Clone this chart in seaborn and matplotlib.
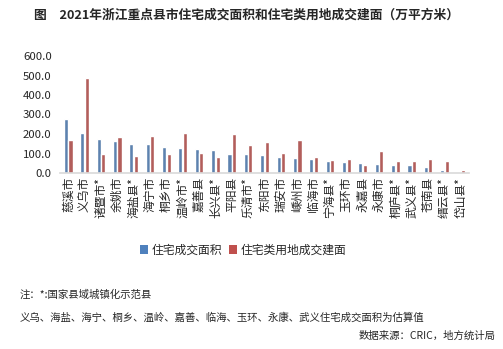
import matplotlib
matplotlib.use("Agg")
import matplotlib.pyplot as plt
import seaborn as sns
import pandas as pd
from matplotlib.patches import Patch

categories = ["慈溪市", "义乌市", "诸暨市*", "余姚市", "海盐县*", "海宁市", "桐乡市", "温岭市*",
              "嘉善县", "长兴县*", "平阳县", "乐清市*", "东阳市", "瑞安市", "嵊州市", "临海市",
              "宁海县*", "玉环市", "永嘉县", "永康市", "桐庐县*", "武义县*", "苍南县", "缙云县*", "岱山县*"]
housing_area = [276, 205, 175, 164, 149, 149, 134, 129, 124, 119, 98, 98, 93, 83, 78, 73,
                63, 58, 53, 47, 42, 42, 32, 17, 7]
land_area = [169, 485, 98, 185, 88, 190, 98, 205, 103, 83, 200, 144, 159, 103, 169, 83,
             68, 73, 42, 114, 63, 63, 73, 63, 17]
series_names = ["住宅成交面积", "住宅类用地成交建面"]
y_ticks = [0, 100, 200, 300, 400, 500, 600]

sns.set_theme(style="white")
plt.rcParams['font.family'] = ['Noto Sans CJK SC', 'DejaVu Sans']

df = pd.DataFrame({
    "city": categories * 2,
    "value": housing_area + land_area,
    "series": [series_names[0]] * len(categories) + [series_names[1]] * len(categories),
})

fig = plt.figure(figsize=(5.03, 3.49), dpi=100)
ax = fig.add_axes([60/503, 1-173/349, (469-60)/503, (173-56)/349])
sns.barplot(data=df, x="city", y="value", hue="series", hue_order=series_names,
            palette=["#4F81BD", "#C0504D"], width=0.56, gap=0.1, ax=ax, legend=False)

ax.set_ylim(0, 600)
ax.set_yticks(y_ticks)
ax.set_yticklabels([f"{v:.1f}" for v in y_ticks], fontsize=8.2)
ax.set_xlim(-0.5, len(categories) - 0.5)
ax.set_xticks(range(len(categories)))
ax.set_xticklabels(categories, rotation=90, fontsize=8.5, va="top", ha="center")
ax.tick_params(axis="both", length=0, pad=3)
ax.tick_params(axis="y", pad=6)
ax.set_xlabel("")
ax.set_ylabel("")
for s in ["top", "right", "left"]:
    ax.spines[s].set_visible(False)
ax.spines["bottom"].set_color("#D9D9D9")
ax.spines["bottom"].set_linewidth(1.2)

fig.text(246/503, 1-15/349, "图　2021年浙江重点县市住宅成交面积和住宅类用地成交建面（万平方米）",
         ha="center", va="center", fontsize=9.2, fontweight="bold")

handles = [Patch(facecolor="#4F81BD", edgecolor="none"), Patch(facecolor="#C0504D", edgecolor="none")]
fig.legend(handles, series_names, loc="center", bbox_to_anchor=(243/503, 1-250/349), ncol=2,
           frameon=False, fontsize=8.5, handlelength=0.7, handleheight=0.7, handletextpad=0.3,
           columnspacing=0.6)

fig.text(20/503, 1-295/349, "注：*:国家县域城镇化示范县", ha="left", va="center", fontsize=7.5)
fig.text(20/503, 1-318/349, "义乌、海盐、海宁、桐乡、温岭、嘉善、临海、玉环、永康、武义住宅成交面积为估算值",
         ha="left", va="center", fontsize=7.5)
fig.text(496/503, 1-336/349, "数据来源：CRIC，地方统计局", ha="right", va="center", fontsize=7.5)

fig.savefig("out.png", dpi=100)
